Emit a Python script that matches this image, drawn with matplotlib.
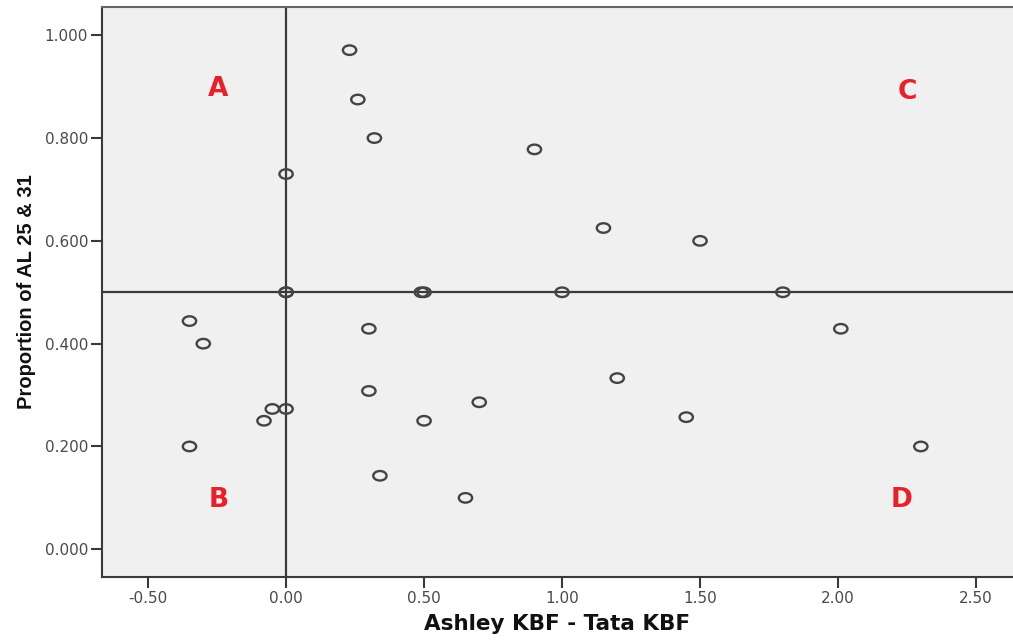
import numpy as np
import matplotlib
matplotlib.use("Agg")
from matplotlib import pyplot as plt
from matplotlib.path import Path

plt.rcParams['font.family'] = ['DejaVu Sans']

# values
kbf_diff = [0.23, 0.26, 0.32, 0.00, 0.90, 1.15, 1.50,
            0.00, 0.00, 0.49, 0.50, 1.00, 1.80,
            0.30, 2.01, -0.35, -0.30, 1.20, 0.30, 0.70,
            1.45, 0.50, -0.05, 0.00, -0.08, -0.35, 2.30,
            0.34, 0.65]
proportion = [0.971, 0.875, 0.800, 0.730, 0.778, 0.625, 0.600,
              0.500, 0.500, 0.500, 0.500, 0.500, 0.500,
              0.429, 0.429, 0.444, 0.400, 0.333, 0.308, 0.286,
              0.257, 0.250, 0.273, 0.273, 0.250, 0.200, 0.200,
              0.143, 0.100]

quad_labels = ['A', 'B', 'C', 'D']
quad_x = [-0.245, -0.245, 2.25, 2.23]
quad_y = [0.895, 0.095, 0.890, 0.095]

xticks = [-0.5, 0.0, 0.5, 1.0, 1.5, 2.0, 2.5]
yticks = [0.0, 0.2, 0.4, 0.6, 0.8, 1.0]

# slightly wide ellipse marker like the spss output
circ = Path.unit_circle()
ellipse = Path(circ.vertices * np.array([1.4, 1.0]), circ.codes)

fig = plt.figure(figsize=(10.13, 6.41), dpi=100)
ax = fig.add_axes([0.1007, 0.0998, 0.8993, 0.8893])
ax.set_facecolor('#f0f0f0')

ax.axvline(0, color='#3a3a3a', lw=1.6, zorder=1)
ax.axhline(0.5, color='#3a3a3a', lw=1.6, zorder=1)

ax.scatter(kbf_diff, proportion, marker=ellipse, s=92, facecolors='none',
           edgecolors='#444444', linewidths=1.7, zorder=3)

for lab, qx, qy in zip(quad_labels, quad_x, quad_y):
    ax.text(qx, qy, lab, color='#e8202a', fontsize=19, fontweight='bold',
            ha='center', va='center')

ax.set_xlim(-0.667, 2.634)
ax.set_ylim(-0.054, 1.055)
ax.set_xticks(xticks)
ax.set_xticklabels(['{:.2f}'.format(v) for v in xticks])
ax.set_yticks(yticks)
ax.set_yticklabels(['{:.3f}'.format(v) for v in yticks])
ax.tick_params(axis='both', direction='out', length=8, width=1.5,
               color='#3a3a3a', labelsize=11, labelcolor='#4a4a4a', pad=2)

for sp in ax.spines.values():
    sp.set_color('#3a3a3a')
    sp.set_linewidth(1.5)
ax.spines['top'].set_color('#666666')
ax.spines['right'].set_visible(False)

ax.set_xlabel('Ashley KBF - Tata KBF', fontsize=15.5, fontweight='bold',
              color='#111111', labelpad=6)
ax.set_ylabel('Proportion of AL 25 & 31', fontsize=14.5, fontweight='bold',
              color='#111111', labelpad=6, family='Liberation Sans')

fig.savefig('out.png', dpi=100)
